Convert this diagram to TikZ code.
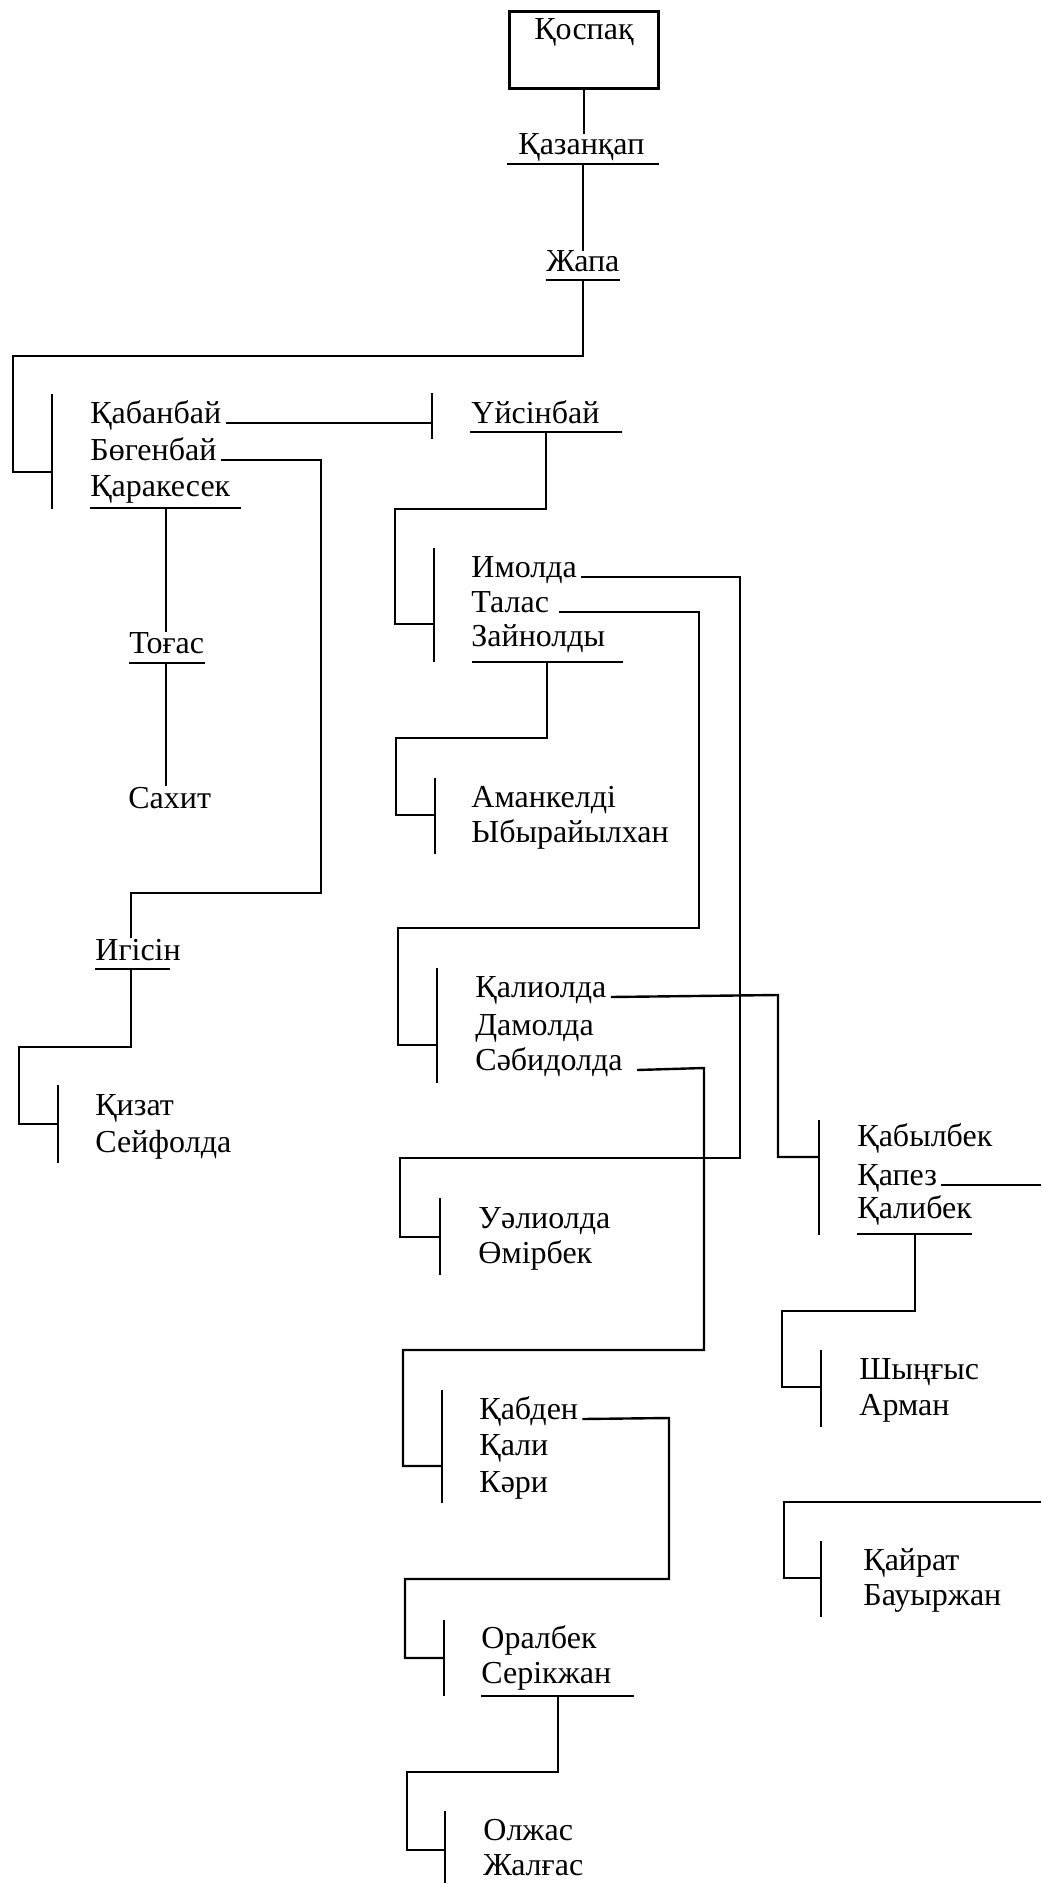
\documentclass[tikz,border=0pt]{standalone}
\usepackage{fontspec}
\setmainfont{Liberation Serif}
\newcommand\namefont{\fontsize{16}{19}\selectfont}
\tikzset{
  nm/.style={font=\namefont, inner sep=0pt, anchor=base west},
  ln/.style={line width=1.2pt, line join=miter},
}
\begin{document}
\begin{tikzpicture}[x=0.5pt,y=-0.5pt]
\fill[white] (0,0) rectangle (1041,1883);
\useasboundingbox (0,0) rectangle (1041,1883);

% ---------- root box ----------
\node[draw, ln, minimum width=74.5pt, minimum height=38.5pt, inner sep=0pt] (box) at (584,50) {};
\node[nm, anchor=base] (qospaq) at (584,40) {Қоспақ};

% ---------- names ----------
\node[nm] (kazankap) at (518,155) {Қазанқап};
\node[nm] (zhapa) at (546,272) {Жапа};
\node[nm] (kabanbay) at (90,423) {Қабанбай};
\node[nm] (bogenbay) at (90,460) {Бөгенбай};
\node[nm] (karakesek) at (90,496) {Қаракесек};
\node[nm] (uisinbay) at (471,423) {Үйсінбай};
\node[nm] (togas) at (129,653) {Тоғас};
\node[nm] (sahit) at (128,808) {Сахит};
\node[nm] (igisin) at (95,960) {Игісін};
\node[nm] (imolda) at (471,577) {Имолда};
\node[nm] (talas) at (471,612) {Талас};
\node[nm] (zainoldy) at (471,646) {Зайнолды};
\node[nm] (amankeldi) at (471,807) {Аманкелді};
\node[nm] (ybyraiylhan) at (471,842) {Ыбырайылхан};
\node[nm] (kaliolda) at (475,997) {Қалиолда};
\node[nm] (damolda) at (475,1035) {Дамолда};
\node[nm] (sabidolda) at (475,1070) {Сәбидолда};
\node[nm] (kizat) at (95,1115) {Қизат};
\node[nm] (seifolda) at (95,1152) {Сейфолда};
\node[nm] (ualiolda) at (478,1228) {Уәлиолда};
\node[nm] (omirbek) at (478,1263) {Өмірбек};
\node[nm] (kabylbek) at (857,1146) {Қабылбек};
\node[nm] (kapez) at (857,1185) {Қапез};
\node[nm] (kalibek) at (857,1218) {Қалибек};
\node[nm] (shyngys) at (859,1379) {Шыңғыс};
\node[nm] (arman) at (859,1415) {Арман};
\node[nm] (kabden) at (479,1419) {Қабден};
\node[nm] (kali) at (479,1455) {Қали};
\node[nm] (kari) at (479,1492) {Кәри};
\node[nm] (kairat) at (863,1570) {Қайрат};
\node[nm] (bauyrzhan) at (863,1605) {Бауыржан};
\node[nm] (oralbek) at (481,1648) {Оралбек};
\node[nm] (serikzhan) at (481,1683) {Серікжан};
\node[nm] (olzhas) at (483,1840) {Олжас};
\node[nm] (zhalgas) at (483,1875) {Жалғас};

% ---------- brackets ----------
\draw[ln] (52,394) coordinate (brAt) -- (52,509);
\draw[ln] (432,393) coordinate (brBt) -- (432,439);
\draw[ln] (434,548) coordinate (brCt) -- (434,662);
\draw[ln] (435,778) coordinate (brDt) -- (435,854);
\draw[ln] (437,968) coordinate (brEt) -- (437,1083);
\draw[ln] (58,1085) coordinate (brFt) -- (58,1163);
\draw[ln] (440,1198) coordinate (brGt) -- (440,1275);
\draw[ln] (819,1120) coordinate (brHt) -- (819,1235);
\draw[ln] (821,1350) coordinate (brIt) -- (821,1427);
\draw[ln] (442,1390) coordinate (brJt) -- (442,1503);
\draw[ln] (821,1541) coordinate (brKt) -- (821,1617);
\draw[ln] (444,1620) coordinate (brLt) -- (444,1696);
\draw[ln] (445,1811) coordinate (brMt) -- (445,1883);

% ---------- underlines ----------
\draw[ln] (507,164) -- (659,164);
\draw[ln] (546,280) -- (620,280);
\draw[ln] (470,432) -- (622,432);
\draw[ln] (90,508) -- (241,508);
\draw[ln] (129,663) -- (205,663);
\draw[ln] (95,969) -- (170,969);
\draw[ln] (472,662) -- (623,662);
\draw[ln] (857,1234) -- (972,1234);
\draw[ln] (481,1696) -- (634,1696);

% ---------- connectors ----------
\draw[ln] (box.south) -- (box.south |- kazankap.north);
\draw[ln] (583,164) -- (583,164 |- zhapa.north);
\draw[ln] (583,280) -- (583,356) -- (13,356) -- (13,472) -- (brAt |- 0,472);
\draw[ln] ([xshift=2pt]kabanbay.base east) -- (kabanbay.base -| brBt);
\draw[ln] ([xshift=2pt]bogenbay.base east) -- (321,460) -- (321,893) -- (131,893) -- (131,893 |- igisin.north);
\draw[ln] (166,508) -- (166,508 |- togas.north);
\draw[ln] (166,663) -- (166,663 |- sahit.north);
\draw[ln] (546,432) -- (546,509) -- (395,509) -- (395,624) -- (brCt |- 0,624);
\draw[ln] (547,662) -- (547,738) -- (396,738) -- (396,815) -- (brDt |- 0,815);
\draw[ln] ([xshift=2pt]imolda.base east) -- (740,577) -- (740,1158) -- (400,1158) -- (400,1237) -- (brGt |- 0,1237);
\draw[ln] ([xshift=5pt]talas.base east) -- (699,612) -- (699,928) -- (398,928) -- (398,1045) -- (brEt |- 0,1045);
\draw[ln] (131,969) -- (131,1047) -- (19,1047) -- (19,1124) -- (brFt |- 0,1124);
\draw[ln] ([xshift=2pt]kaliolda.base east) -- (778,995) -- (778,1157) -- (brHt |- 0,1157);
\draw[ln] ([xshift=7pt]sabidolda.base east) -- (704,1068) -- (704,1350) -- (403,1350) -- (403,1466) -- (brJt |- 0,1466);
\draw[ln] ([xshift=2pt]kapez.base east) -- (1041,1185);
\draw[ln] (915,1234) -- (915,1311) -- (782,1311) -- (782,1387) -- (brIt |- 0,1387);
\draw[ln] ([xshift=2pt]kabden.base east) -- (669,1418) -- (669,1579) -- (405,1579) -- (405,1658) -- (brLt |- 0,1658);
\draw[ln] (558,1696) -- (558,1772) -- (407,1772) -- (407,1850) -- (brMt |- 0,1850);
\draw[ln] (1041,1502) -- (784,1502) -- (784,1578) -- (brKt |- 0,1578);
\end{tikzpicture}
\end{document}
